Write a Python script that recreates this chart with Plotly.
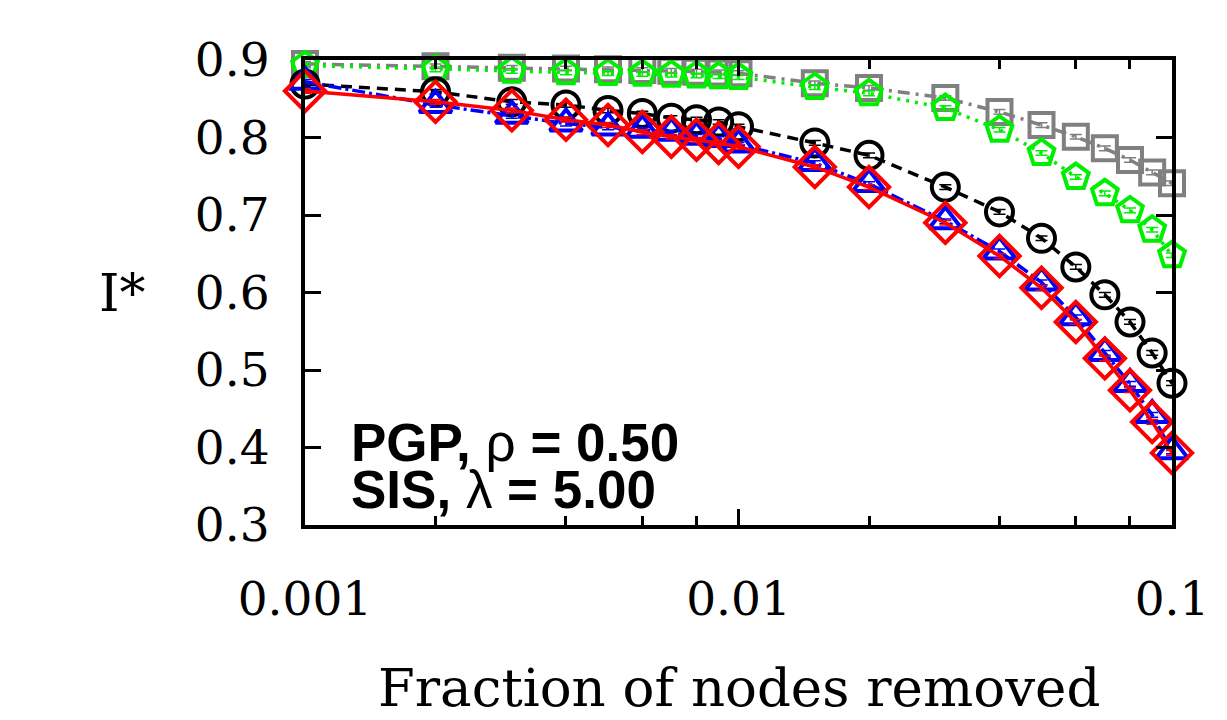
import plotly.graph_objects as go

x_frac = [0.001, 0.002, 0.003, 0.004, 0.005, 0.006, 0.007, 0.008, 0.009, 0.01,
          0.015, 0.02, 0.03, 0.04, 0.05, 0.06, 0.07, 0.08, 0.09, 0.1]
gray_vals = [0.895, 0.892, 0.890, 0.889, 0.888, 0.887, 0.886, 0.885, 0.884, 0.883,
             0.870, 0.864, 0.851, 0.833, 0.816, 0.801, 0.786, 0.771, 0.755, 0.741]
green_vals = [0.893, 0.888, 0.886, 0.884, 0.883, 0.882, 0.881, 0.880, 0.879, 0.878,
              0.865, 0.857, 0.838, 0.810, 0.780, 0.749, 0.728, 0.706, 0.681, 0.648]
black_vals = [0.869, 0.859, 0.846, 0.842, 0.835, 0.831, 0.825, 0.823, 0.820, 0.814,
              0.793, 0.777, 0.736, 0.704, 0.670, 0.633, 0.597, 0.562, 0.522, 0.483]
blue_vals = [0.872, 0.842, 0.828, 0.818, 0.813, 0.810, 0.806, 0.801, 0.798, 0.791,
             0.767, 0.740, 0.692, 0.653, 0.613, 0.568, 0.522, 0.482, 0.442, 0.395]
red_vals = [0.860, 0.846, 0.835, 0.823, 0.816, 0.807, 0.801, 0.797, 0.793, 0.788,
            0.762, 0.736, 0.690, 0.647, 0.606, 0.562, 0.515, 0.474, 0.433, 0.393]
err = 0.003

y_ticks = [0.3, 0.4, 0.5, 0.6, 0.7, 0.8, 0.9]
y_ticktext = ["0.3", "0.4", "0.5", "0.6", "0.7", "0.8", "0.9"]
x_ticks = [0.001, 0.01, 0.1]
x_ticktext = ["0.001", "0.01", "0.1"]
x_minor = [0.002, 0.004, 0.006, 0.008, 0.02, 0.04, 0.06, 0.08]

series = [
    (gray_vals, "#808080", "square-open", 24, "12px,6px,3px,6px"),
    (green_vals, "#00ee00", "pentagon-open", 27, "3px,6px"),
    (black_vals, "#000000", "circle-open", 27, "11px,7px"),
    (blue_vals, "#0000ff", "triangle-up-open", 28, "13px,4px,3px,4px"),
    (red_vals, "#ff0000", "diamond-open", 31, "solid"),
]

fig = go.Figure()
for vals, col, sym, sz, dash in series:
    fig.add_trace(go.Scatter(
        x=x_frac, y=vals, mode="lines+markers",
        line=dict(color=col, width=3.5, dash=dash),
        marker=dict(symbol=sym, size=sz, color=col, line=dict(width=4, color=col)),
        error_y=dict(type="constant", value=err, color=col, thickness=1.5, width=6),
        cliponaxis=False, showlegend=False,
    ))

tickfont = dict(family="DejaVu Serif", size=47, color="black")
fig.update_layout(
    width=1227, height=720,
    margin=dict(l=305, r=55, t=60, b=195, autoexpand=False),
    paper_bgcolor="white", plot_bgcolor="white",
    xaxis=dict(type="log", range=[-3.00001, -0.99999], tickmode="array", tickvals=x_ticks,
               ticktext=x_ticktext, ticks="inside", ticklen=16, tickwidth=3,
               tickcolor="black", showline=True, linewidth=4, linecolor="black",
               mirror="allticks", showgrid=False, zeroline=False, automargin=False,
               tickfont=tickfont, ticklabelstandoff=30,
               minor=dict(tickmode="array", tickvals=x_minor, ticks="inside",
                          ticklen=9, tickwidth=3, tickcolor="black", showgrid=False)),
    yaxis=dict(range=[0.3, 0.9], tickmode="array", tickvals=y_ticks,
               ticktext=y_ticktext, ticks="inside", ticklen=16, tickwidth=3,
               tickcolor="black", showline=True, linewidth=4, linecolor="black",
               mirror="allticks", showgrid=False, zeroline=False, automargin=False,
               tickfont=tickfont, ticklabelstandoff=22),
    annotations=[
        dict(text="I*", xref="paper", yref="paper", x=0, y=0.5, xanchor="center",
             yanchor="middle", xshift=-183, showarrow=False,
             font=dict(family="DejaVu Serif", size=52, color="black")),
        dict(text="Fraction of nodes removed", xref="paper", yref="paper", x=0.5, y=0,
             xanchor="center", yanchor="middle", yshift=-162, showarrow=False,
             font=dict(family="DejaVu Serif", size=53, color="black")),
        dict(text="<b>PGP, </b>ρ<b> = 0.50</b>", xref="paper", yref="paper", x=0, y=0,
             xanchor="left", yanchor="middle", xshift=44, yshift=83, showarrow=False,
             font=dict(family="Liberation Sans", size=53, color="black")),
        dict(text="<b>SIS, </b>λ<b> = 5.00</b>", xref="paper", yref="paper", x=0, y=0,
             xanchor="left", yanchor="middle", xshift=44, yshift=36, showarrow=False,
             font=dict(family="Liberation Sans", size=53, color="black")),
    ],
)

fig.write_html("out.html", config={"displayModeBar": False},
               post_script="document.body.style.margin='0';document.body.style.overflow='hidden';")
